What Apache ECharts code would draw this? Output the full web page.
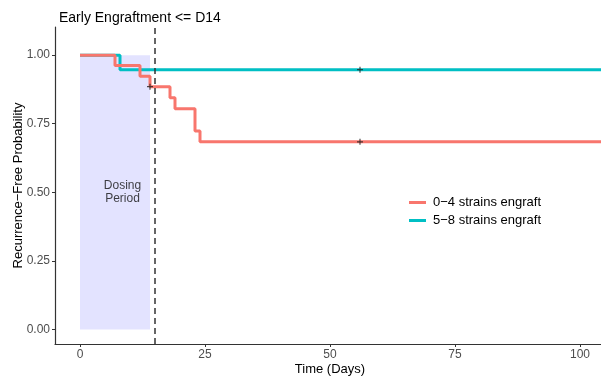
<!DOCTYPE html>
<html>
<head>
<meta charset="utf-8">
<script src="https://cdn.jsdelivr.net/npm/echarts@6/dist/echarts.min.js"></script>
<style>html,body{margin:0;padding:0;background:#fff}#c{width:601px;height:377px}</style>
</head>
<body>
<div id="c"></div>
<script>
// Data
const redName = '0\u22124 strains engraft';
const cyanName = '5\u22128 strains engraft';
const redTimes = [0, 7, 12, 14, 18, 19, 23, 24, 105];
const redSurv  = [1.0, 0.962, 0.923, 0.885, 0.845, 0.805, 0.724, 0.684, 0.684];
const cyanTimes = [0, 8, 105];
const cyanSurv  = [1.0, 0.947, 0.947];
const redCensorTimes = [14, 56];
const redCensorSurv = [0.885, 0.684];
const cyanCensorTimes = [56];
const cyanCensorSurv = [0.947];
const dosingStart = 0, dosingEnd = 14;
const cutoffDay = 15;
const xTicks = [0, 25, 50, 75, 100];
const yTicks = [0, 0.25, 0.5, 0.75, 1];

const font = 'Liberation Sans, Arial, sans-serif';
const zip = (a, b) => a.map((v, i) => [v, b[i]]);
const plusPath = 'path://M4,0 L6,0 L6,4 L10,4 L10,6 L6,6 L6,10 L4,10 L4,6 L0,6 L0,4 L4,4 Z';

const chart = echarts.init(document.getElementById('c'), null, {renderer: 'canvas'});
chart.setOption({
  animation: false,
  backgroundColor: '#fff',
  textStyle: {fontFamily: font},
  title: {
    text: 'Early Engraftment <= D14',
    left: 54, top: 6,
    textStyle: {fontFamily: font, fontSize: 14, fontWeight: 'normal', color: '#000'}
  },
  grid: {left: 55, top: 27, width: 550, height: 317, containLabel: false, outerBoundsMode: 'none'},
  legend: {
    orient: 'vertical', left: 404, top: 191,
    itemWidth: 17, itemHeight: 3, itemGap: 5,
    icon: 'rect',
    data: [redName, cyanName],
    textStyle: {fontFamily: font, fontSize: 13, color: '#000', padding: [0, 0, 0, 2]}
  },
  xAxis: {
    type: 'value', min: -5, max: 105,
    name: 'Time (Days)', nameLocation: 'middle', nameGap: 19, nameMoveOverlap: false,
    nameTextStyle: {fontFamily: font, fontSize: 13, color: '#000'},
    axisLine: {show: true, onZero: false, lineStyle: {color: '#333', width: 1.2}},
    axisTick: {show: true, length: 3, customValues: xTicks, lineStyle: {color: '#333'}},
    axisLabel: {customValues: xTicks, fontSize: 12, color: '#4d4d4d', margin: 5, fontFamily: font},
    splitLine: {show: false}
  },
  yAxis: {
    type: 'value', min: -0.0525, max: 1.1025,
    name: 'Recurrence\u2212Free Probability', nameLocation: 'middle', nameGap: 30, nameMoveOverlap: false,
    nameTextStyle: {fontFamily: font, fontSize: 13, color: '#000'},
    axisLine: {show: true, onZero: false, lineStyle: {color: '#333', width: 1.2}},
    axisTick: {show: true, length: 3, customValues: yTicks, lineStyle: {color: '#333'}},
    axisLabel: {customValues: yTicks, fontSize: 12, color: '#4d4d4d', margin: 5, fontFamily: font,
      formatter: v => v.toFixed(2)},
    splitLine: {show: false}
  },
  series: [
    {
      name: 'dosing', type: 'scatter', symbolSize: 0, silent: true, z: 1,
      data: [[(dosingStart + dosingEnd) / 2 + 1.5, 0.5]],
      label: {show: true, position: 'inside', formatter: 'Dosing\nPeriod', fontSize: 12,
        color: '#111', lineHeight: 13, fontFamily: font},
      markArea: {
        silent: true,
        itemStyle: {color: 'rgba(0,0,255,0.11)'},
        data: [[{coord: [dosingStart, 0]}, {coord: [dosingEnd, 1]}]]
      },
      markLine: {
        silent: true, symbol: ['none', 'none'], label: {show: false},
        lineStyle: {color: '#333', type: [6, 4], width: 1.5},
        data: [{xAxis: cutoffDay}]
      }
    },
    {
      name: cyanName, type: 'line', step: 'end', showSymbol: false, z: 3,
      color: '#00BFC4', lineStyle: {width: 3, color: '#00BFC4'},
      data: zip(cyanTimes, cyanSurv)
    },
    {
      name: redName, type: 'line', step: 'end', showSymbol: false, z: 4,
      color: '#F8766D', lineStyle: {width: 3, color: '#F8766D'},
      data: zip(redTimes, redSurv)
    },
    {
      name: 'censor', type: 'scatter', symbol: plusPath, symbolSize: 6, z: 5,
      itemStyle: {color: '#222'},
      data: zip(redCensorTimes, redCensorSurv).concat(zip(cyanCensorTimes, cyanCensorSurv))
    }
  ]
});
</script>
</body>
</html>
